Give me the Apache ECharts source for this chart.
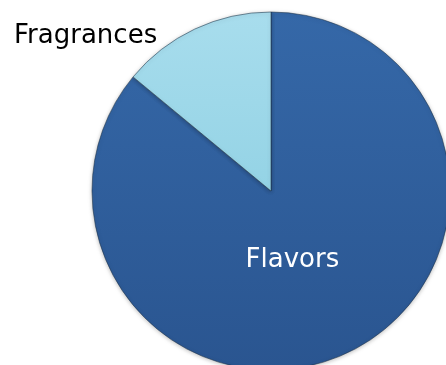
<!DOCTYPE html>
<html>
<head>
<meta charset="utf-8">
<script src="https://cdn.jsdelivr.net/npm/echarts@6/dist/echarts.min.js"></script>
<style>
  html, body { margin: 0; padding: 0; background: #ffffff; }
  #chart { width: 446px; height: 365px; }
</style>
</head>
<body>
<div id="chart"></div>
<script>
// Share of sales by business segment
const categories = ['Flavors', 'Fragrances'];
const shares = [86, 14];

const fills = [
  { top: '#3568a8', bottom: '#2a5590', label: '#ffffff' },
  { top: '#a8dded', bottom: '#94d3e5', label: '#000000' }
];
const labelOffsets = [[-18, -14], [-146, -71]];

const chart = echarts.init(document.getElementById('chart'), null, { renderer: 'canvas' });

chart.setOption({
  animation: false,
  series: [{
    type: 'pie',
    center: [271, 191],
    radius: [0, 179],
    startAngle: 90,
    clockwise: true,
    silent: true,
    data: categories.map((name, i) => ({
      name,
      value: shares[i],
      itemStyle: {
        color: new echarts.graphic.LinearGradient(0, 0, 0, 1, [
          { offset: 0, color: fills[i].top },
          { offset: 1, color: fills[i].bottom }
        ]),
        borderColor: 'rgba(30,50,70,0.55)',
        borderWidth: 1,
        shadowColor: 'rgba(0,0,0,0.25)',
        shadowBlur: 4,
        shadowOffsetY: 1
      },
      label: {
        color: fills[i].label,
        offset: labelOffsets[i]
      }
    })),
    label: {
      show: true,
      position: 'inside',
      formatter: '{b}',
      fontFamily: 'DejaVu Sans',
      fontSize: 26
    },
    labelLine: { show: false }
  }]
});
</script>
</body>
</html>
